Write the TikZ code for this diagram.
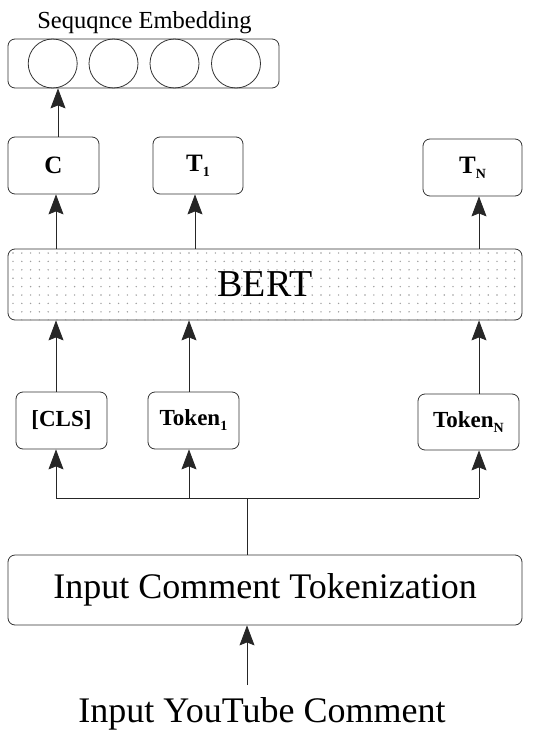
\documentclass[tikz,border=0pt]{standalone}
\usepackage{fontspec}
\setmainfont{Liberation Serif}
\usetikzlibrary{arrows.meta}
\newcommand{\lowsub}[1]{\raisebox{-5pt}{\fontsize{14}{14}\selectfont #1}}
\begin{document}
\begin{tikzpicture}[x=1pt,y=-1pt,
  box/.style={draw=black!80,line width=0.8pt,rounded corners=7pt,inner sep=0pt,align=center},
  arr/.style={-{Stealth[length=20pt,width=15pt,inset=3pt]},line width=0.8pt,black!85},
  ln/.style={line width=0.8pt,black!85},
  circ/.style={circle,draw=black!80,line width=0.8pt,minimum size=49pt,inner sep=0pt},
  lab/.style={font=\fontsize{25}{27}\selectfont\bfseries},
  toklab/.style={font=\fontsize{23}{25}\selectfont\bfseries},
  big/.style={font=\fontsize{36}{40}\selectfont}]
\useasboundingbox (0,0) rectangle (550,731);

% title and embedding
\node[font=\fontsize{24.5}{27}\selectfont,inner sep=0pt,anchor=base] (title) at (144.5,28) {Sequqnce Embedding};
\node[box,minimum width=271pt,minimum height=49pt] (emb) at (143.5,63.5) {};
\node[circ] (e1) at (52.7,63.5) {};
\node[circ] (e2) at (113.5,63.5) {};
\node[circ] (e3) at (174.5,63.5) {};
\node[circ] (e4) at (236,63.5) {};

% outputs
\node[box,lab,minimum width=91pt,minimum height=57pt] (C) at (53.5,165.5) {C};
\node[box,lab,minimum width=90pt,minimum height=57pt] (T1) at (198,165.5) {T\lowsub{\bfseries 1}};
\node[box,lab,minimum width=99pt,minimum height=57pt] (TN) at (472.5,167.5) {T\lowsub{\bfseries N}};

% BERT dotted background
\begin{scope}
  \clip[rounded corners=7pt] (8,249) rectangle (522,320);
  \foreach \i in {0,...,58}{
    \foreach \j in {0,...,8}{
      \fill[black!38] (13+\i*8.8,253+\j*8.4) circle (0.8pt);
    }
  }
\end{scope}
\node[box,minimum width=514pt,minimum height=71pt,font=\fontsize{38}{42}\selectfont] (bert) at (265,284.5) {BERT};

% tokens
\node[box,toklab,minimum width=91pt,minimum height=57pt] (cls) at (61.5,420.5) {[CLS]};
\node[box,toklab,minimum width=91pt,minimum height=57pt] (tok1) at (193.5,420.5) {Token\lowsub{\bfseries 1}};
\node[box,toklab,minimum width=101pt,minimum height=56pt] (tokN) at (468.5,422) {Token\lowsub{\bfseries N}};

% tokenization
\node[box,big,minimum width=514pt,minimum height=70pt] (tokz) at (265,590) {Input Comment Tokenization};
\node[big,inner xsep=0pt,inner ysep=0pt,outer ysep=12pt,anchor=base] (inp) at (262,722) {Input YouTube Comment};

% column coordinates
\coordinate (xa) at (56,0);
\coordinate (xb) at (189,0);
\coordinate (xc) at (479,0);
\coordinate (xt) at (195,0);
\coordinate (xe) at (58,0);
\coordinate (xm) at (247,0);
\coordinate (hub) at (247,498);

% connectors
\draw[arr] (C.north -| xe) -- (emb.south -| xe);
\draw[arr] (bert.north -| xa) -- (C.south -| xa);
\draw[arr] (bert.north -| xt) -- (T1.south -| xt);
\draw[arr] (bert.north -| xc) -- (TN.south -| xc);
\draw[arr] (cls.north -| xa) -- (bert.south -| xa);
\draw[arr] (tok1.north -| xb) -- (bert.south -| xb);
\draw[arr] (tokN.north -| xc) -- (bert.south -| xc);
\draw[ln] (tokz.north -| xm) -- (hub);
\draw[ln] (hub -| xa) -- (hub -| xc);
\draw[arr] (hub -| xa) -- (cls.south -| xa);
\draw[arr] (hub -| xb) -- (tok1.south -| xb);
\draw[arr] (hub -| xc) -- (tokN.south -| xc);
\draw[arr] (inp.north -| xm) -- (tokz.south -| xm);
\end{tikzpicture}
\end{document}
